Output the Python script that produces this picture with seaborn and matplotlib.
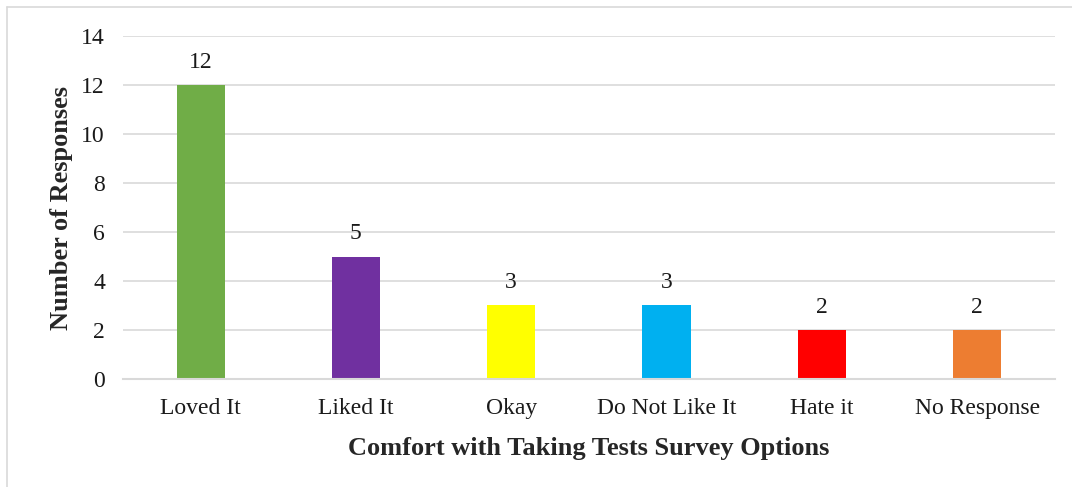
import matplotlib
matplotlib.use('Agg')
import matplotlib.pyplot as plt
import seaborn as sns
import pandas as pd
from matplotlib.lines import Line2D

# survey data
options = ['Loved It', 'Liked It', 'Okay', 'Do Not Like It', 'Hate it', 'No Response']
responses = [12, 5, 3, 3, 2, 2]
bar_colors = ['#70AD47', '#7030A0', '#FFFF00', '#00B0F0', '#FF0000', '#ED7D31']

df = pd.DataFrame({'Option': options, 'Responses': responses})

sns.set_style('white')
plt.rcParams['font.family'] = ['Liberation Serif', 'DejaVu Serif']

fig = plt.figure(figsize=(10.72, 4.87), dpi=100)
ax = fig.add_axes([0.1147, 0.2218, 0.8693, 0.7042])

sns.barplot(data=df, x='Option', y='Responses', hue='Option', palette=bar_colors,
            width=0.31, legend=False, ax=ax, saturation=1, linewidth=0)

# value labels
for i, v in enumerate(responses):
    ax.text(i, v + 0.5, str(v), ha='center', va='bottom', fontsize=17, color='#1a1a1a')

ax.set_ylim(0, 14)
ax.set_yticks(range(0, 15, 2))
ax.set_xlim(-0.5, len(options) - 0.5)
ax.yaxis.grid(True, color='#D9D9D9', linewidth=1.2)
ax.set_axisbelow(True)
for s in ['top', 'right', 'left']:
    ax.spines[s].set_visible(False)
ax.spines['bottom'].set_color('#D9D9D9')
ax.spines['bottom'].set_linewidth(1.5)
ax.tick_params(axis='both', length=0, labelsize=17, colors='#1a1a1a')
ax.tick_params(axis='x', pad=14)
ax.tick_params(axis='y', pad=13)

ax.set_xlabel('Comfort with Taking Tests Survey Options', fontsize=19, fontweight='bold', labelpad=13)
ax.set_ylabel('Number of Responses', fontsize=19, fontweight='bold', labelpad=6)

# light chart border (left and top visible)
fig.add_artist(Line2D([7 / 1072, 7 / 1072], [0, 1 - 7 / 487], color='#D9D9D9', linewidth=1.2))
fig.add_artist(Line2D([7 / 1072, 1], [1 - 7 / 487, 1 - 7 / 487], color='#D9D9D9', linewidth=1.2))

fig.savefig('out.png', dpi=100, facecolor='white')
